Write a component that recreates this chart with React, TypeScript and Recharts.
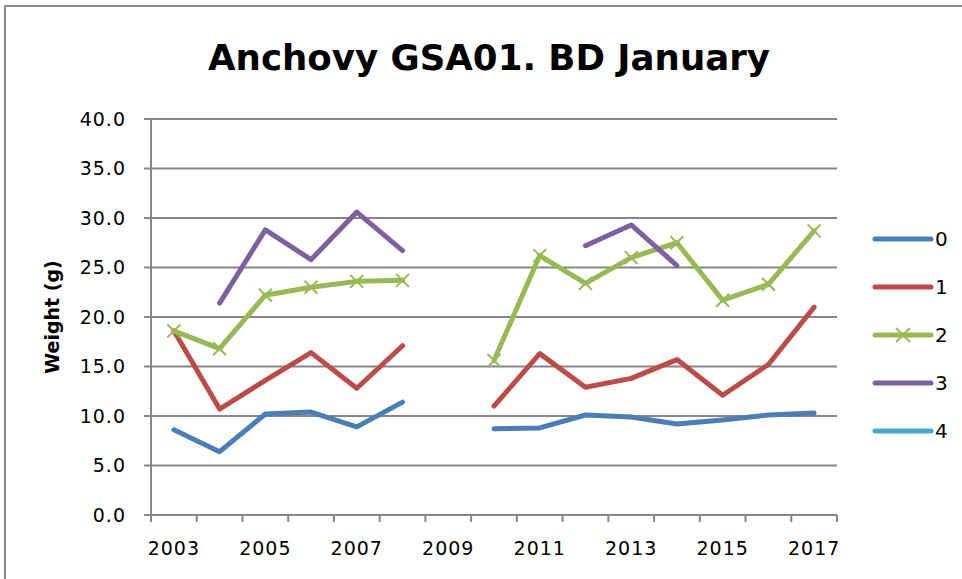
import { LineChart, Line, XAxis, YAxis, CartesianGrid, Legend } from 'recharts';

const years = [2003, 2004, 2005, 2006, 2007, 2008, 2009, 2010, 2011, 2012, 2013, 2014, 2015, 2016, 2017];
const age0 = [8.6, 6.4, 10.2, 10.4, 8.9, 11.4, null, 8.7, 8.8, 10.1, 9.9, 9.2, 9.6, 10.1, 10.3];
const age1 = [18.6, 10.7, 13.6, 16.4, 12.8, 17.1, null, 11.0, 16.3, 12.9, 13.8, 15.7, 12.1, 15.2, 21.0];
const age2 = [18.6, 16.8, 22.2, 23.0, 23.6, 23.7, null, 15.6, 26.2, 23.4, 26.0, 27.5, 21.7, 23.3, 28.7];
const age3 = [null, 21.4, 28.8, 25.8, 30.6, 26.7, null, null, null, 27.2, 29.3, 25.2, null, null, null];
const age4 = [null, null, null, null, null, null, null, null, null, null, null, null, null, null, null];

const yearLabels = [2003, 2005, 2007, 2009, 2011, 2013, 2015, 2017];
const yearEdges = [2002.5, 2003.5, 2004.5, 2005.5, 2006.5, 2007.5, 2008.5, 2009.5, 2010.5, 2011.5, 2012.5, 2013.5, 2014.5, 2015.5, 2016.5, 2017.5];
const weightTicks = [0, 5, 10, 15, 20, 25, 30, 35, 40];

const series = [
  { key: 'a0', name: '0', color: '#4A7EBB', values: age0 },
  { key: 'a1', name: '1', color: '#BE4B48', values: age1 },
  { key: 'a2', name: '2', color: '#98B954', values: age2, cross: true },
  { key: 'a3', name: '3', color: '#7D60A0', values: age3 },
  { key: 'a4', name: '4', color: '#46AAC5', values: age4 },
];

const data = years.map((year, i) => {
  const row: Record<string, number | null> = { year };
  series.forEach((s) => {
    row[s.key] = s.values[i];
  });
  return row;
});

const gridColor = '#868686';
const font = '"DejaVu Sans", sans-serif';

const CrossDot = (props: any) => {
  const { cx, cy, value } = props;
  if (value == null || cx == null || cy == null) return null;
  const r = 6.5;
  return (
    <g stroke="#98B954" strokeWidth={2}>
      <line x1={cx - r} y1={cy - r} x2={cx + r} y2={cy + r} />
      <line x1={cx - r} y1={cy + r} x2={cx + r} y2={cy - r} />
    </g>
  );
};

const LegendBox = () => (
  <div style={{ fontFamily: font, fontSize: 20, color: '#000' }}>
    {series.map((s) => (
      <div key={s.key} style={{ display: 'flex', alignItems: 'center', height: 48 }}>
        <svg width={62} height={20}>
          <line x1={3} y1={10} x2={59} y2={10} stroke={s.color} strokeWidth={5} strokeLinecap="round" />
          {s.cross && (
            <g stroke={s.color} strokeWidth={2}>
              <line x1={24} y1={3} x2={38} y2={17} />
              <line x1={24} y1={17} x2={38} y2={3} />
            </g>
          )}
        </svg>
        <span style={{ marginLeft: 1 }}>{s.name}</span>
      </div>
    ))}
  </div>
);

const YTitle = (props: any) => {
  const vb = props.viewBox || {};
  const x = vb.x + 52;
  const y = vb.y + vb.height / 2;
  return (
    <text
      x={x}
      y={y}
      transform={`rotate(-90, ${x}, ${y})`}
      textAnchor="middle"
      dominantBaseline="central"
      fontFamily={font}
      fontWeight="bold"
      fontSize={19}
      fill="#000"
    >
      Weight (g)
    </text>
  );
};

const tickStyle = { fontFamily: font, fontSize: 19, fill: '#000', letterSpacing: 1 };

export default function App() {
  return (
    <div style={{ position: 'absolute', left: 0, top: 0, width: 962, height: 579, overflow: 'hidden', background: '#fff' }}>
      <div
        style={{
          position: 'absolute',
          left: 4,
          top: 5,
          width: 1000,
          height: 600,
          borderTop: '2px solid #8a8a8a',
          borderLeft: '2px solid #8a8a8a',
        }}
      />
      <svg width={962} height={100} style={{ position: 'absolute', left: 0, top: 0 }}>
        <text x={489} y={70} textAnchor="middle" fontFamily={font} fontWeight="bold" fontSize={35.6} fill="#000">
          Anchovy GSA01. BD January
        </text>
      </svg>
      <div style={{ position: 'absolute', left: 0, top: 0 }}>
        <LineChart width={962} height={579} data={data} margin={{ top: 119, right: 125, bottom: 24, left: 0 }}>
          <CartesianGrid vertical={false} stroke={gridColor} strokeWidth={2} />
          <XAxis
            dataKey="year"
            type="number"
            domain={[2002.5, 2017.5]}
            ticks={yearEdges}
            interval={0}
            height={1}
            tick={() => <g />}
            tickSize={7}
            tickLine={{ stroke: gridColor, strokeWidth: 2 }}
            axisLine={{ stroke: gridColor, strokeWidth: 2 }}
          />
          <XAxis
            xAxisId="labels"
            dataKey="year"
            type="number"
            domain={[2002.5, 2017.5]}
            ticks={yearLabels}
            interval={0}
            height={39}
            tickSize={7}
            tickMargin={19}
            tickLine={false}
            axisLine={false}
            tick={tickStyle}
          />
          <YAxis
            width={151}
            domain={[0, 40]}
            ticks={weightTicks}
            interval={0}
            tickFormatter={(v: number) => v.toFixed(1)}
            tickSize={7}
            tickMargin={18}
            tickLine={{ stroke: gridColor, strokeWidth: 2 }}
            axisLine={{ stroke: gridColor, strokeWidth: 2 }}
            tick={tickStyle}
            label={(p: any) => <YTitle {...p} />}
          />
          {series.map((s) => (
            <Line
              key={s.key}
              dataKey={s.key}
              name={s.name}
              stroke={s.color}
              strokeWidth={5}
              strokeLinecap="round"
              strokeLinejoin="round"
              type="linear"
              dot={s.cross ? <CrossDot /> : false}
              activeDot={false}
              isAnimationActive={false}
            />
          ))}
          <Legend
            layout="horizontal"
            verticalAlign="middle"
            align="center"
            content={<LegendBox />}
            wrapperStyle={{ left: 872, top: 215, width: 90 }}
          />
        </LineChart>
      </div>
    </div>
  );
}
